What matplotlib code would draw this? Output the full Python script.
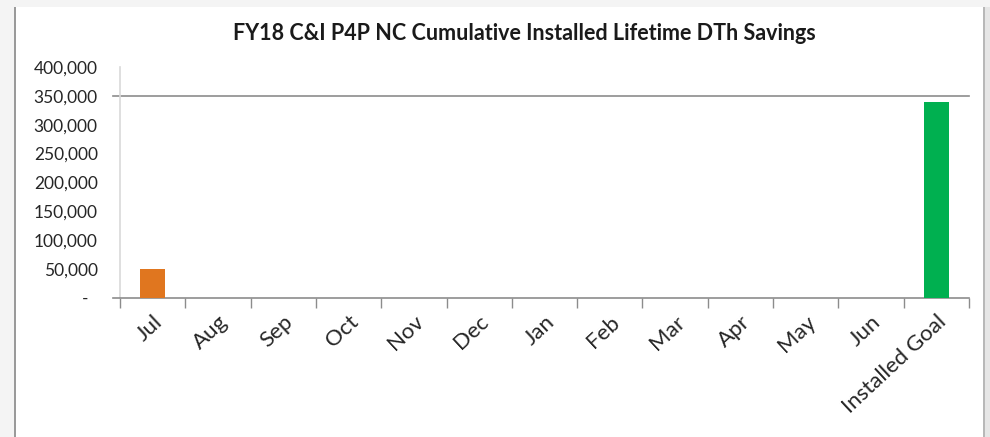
# fy18 c&i p4p nc cumulative lifetime savings - bar chart
import matplotlib.pyplot as plt
from matplotlib.patches import Rectangle
from matplotlib.ticker import FuncFormatter

months = ['Jul', 'Aug', 'Sep', 'Oct', 'Nov', 'Dec', 'Jan', 'Feb', 'Mar',
          'Apr', 'May', 'Jun', 'Installed Goal']
savings = [49500, 0, 0, 0, 0, 0, 0, 0, 0, 0, 0, 0, 340000]
goal_line = 350000

bar_colors = ['#E0761F'] * 12 + ['#00B050']

plt.rcParams['font.family'] = ['Lato', 'DejaVu Sans']

fig = plt.figure(figsize=(9.9, 4.37), dpi=100)
fig.patch.set_facecolor('#f4f4f4')

# white chart panel with the grey borders left and right
W, H = 990, 437
panel = [
    ((16, 983 - 16), 'white'),
    ((14, 2), '#9a9a9a'),
    ((983, 2), '#b8b8b8'),
    ((985, 5), '#e6e6e6'),
]
for (x0, w), c in panel:
    fig.patches.append(Rectangle((x0 / W, 0), w / W, (H - 7) / H,
                                 transform=fig.transFigure, facecolor=c,
                                 edgecolor='none', zorder=-5))

ax = fig.add_axes([120 / W, (H - 298) / H, (969 - 120) / W, (298 - 67) / H])
ax.set_facecolor('none')

x = list(range(len(months)))
ax.bar(x, savings, width=0.39, color=bar_colors, zorder=3)

# goal line at 350k
ax.axhline(goal_line, xmin=-0.008, xmax=1, color='#8c8c8c', lw=1.2,
           clip_on=False, zorder=2)

ax.set_xlim(-0.5, len(months) - 0.5)
ax.set_ylim(0, 400000)
ax.set_yticks(range(0, 400001, 50000))
ax.yaxis.set_major_formatter(FuncFormatter(
    lambda v, p: '-  ' if v == 0 else f'{int(v):,}'))
ax.tick_params(axis='y', length=0, pad=16, labelsize=12.5, colors='#262626')

# category ticks sit between the bars, labels sit under each bar
ax.set_xticks([i - 0.5 for i in range(len(months) + 1)])
ax.set_xticklabels([])
ax.set_xticks(x, minor=True)
ax.set_xticklabels(months, minor=True, rotation=43, ha='right',
                   rotation_mode='anchor', fontsize=16, color='#262626')
ax.tick_params(axis='x', which='major', length=7, color='#8c8c8c', width=1)
ax.tick_params(axis='x', which='minor', length=0, pad=10)

for s in ['top', 'right']:
    ax.spines[s].set_visible(False)
ax.spines['left'].set_color('#d9d9d9')
ax.spines['left'].set_linewidth(1.2)
ax.spines['bottom'].set_color('#8c8c8c')
ax.spines['bottom'].set_linewidth(1.2)
ax.spines['bottom'].set_bounds(-0.5 - 0.1, len(months) - 0.5)

fig.text(524 / W, 1 - 33 / H, 'FY18 C&I P4P NC Cumulative Installed Lifetime DTh Savings',
         ha='center', va='center', fontsize=15.5, fontweight='bold', color='#1a1a1a')

fig.savefig('out.png', dpi=100, facecolor=fig.get_facecolor())
